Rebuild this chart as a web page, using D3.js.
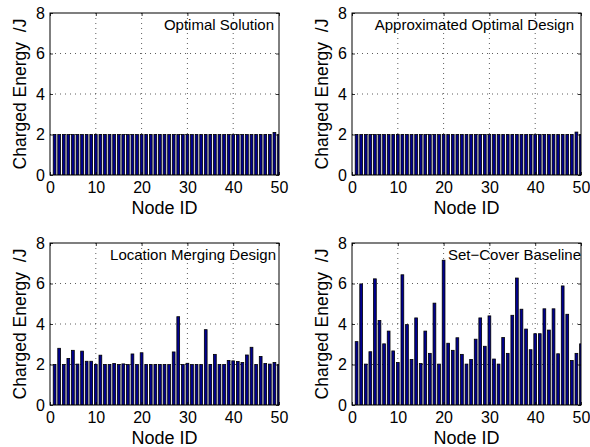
<!DOCTYPE html>
<html><head><meta charset="utf-8">
<script src="https://cdn.jsdelivr.net/npm/d3@7"></script>
<style>
body{margin:0;background:#fff}
svg{display:block}
text{font-family:"Liberation Sans",Arial,Helvetica,sans-serif;fill:#000}
</style>
</head><body>
<svg id="c" width="590" height="447"></svg>
<script>
// ---------- data ----------
const nodeIds = d3.range(1, 51);
const xTicks = [0, 10, 20, 30, 40, 50];
const yTicks = [0, 2, 4, 6, 8];
const titles = ["Optimal Solution", "Approximated Optimal Design", "Location Merging Design", "Set\u2212Cover Baseline"];
const yLabel = "Charged Energy  /J";
const xLabel = "Node ID";

const optimalSolution = [
  2.0,2.0,2.0,2.0,2.0,2.0,2.0,2.0,2.0,2.0,
  2.0,2.0,2.0,2.0,2.0,2.0,2.0,2.0,2.0,2.0,
  2.0,2.0,2.0,2.0,2.0,2.0,2.0,2.0,2.0,2.0,
  2.0,2.0,2.0,2.0,2.0,2.0,2.0,2.0,2.0,2.0,
  2.0,2.0,2.0,2.0,2.0,2.0,2.0,2.0,2.1,2.0];
const approxOptimal = [
  2.0,2.0,2.0,2.0,2.0,2.0,2.0,2.0,2.0,2.0,
  2.0,2.0,2.0,2.0,2.0,2.0,2.0,2.0,2.0,2.0,
  2.0,2.0,2.0,2.0,2.0,2.0,2.0,2.0,2.0,2.0,
  2.0,2.0,2.0,2.0,2.0,2.0,2.0,2.0,2.0,2.0,
  2.0,2.0,2.0,2.0,2.0,2.0,2.0,2.0,2.12,2.0];
const locationMerging = [
  2.0,2.8,2.0,2.3,2.7,2.02,2.66,2.16,2.16,2.0,
  2.46,2.0,2.0,2.05,2.0,2.03,2.0,2.52,2.0,2.58,
  2.0,2.0,2.0,2.0,2.0,2.0,2.62,4.36,2.0,2.06,
  2.0,2.0,2.0,3.72,2.0,2.5,2.0,2.0,2.2,2.18,
  2.15,2.1,2.47,2.85,2.0,2.4,2.05,2.02,2.1,2.0];
const setCover = [
  3.13,5.98,2.02,2.63,6.23,4.17,3.02,3.65,2.67,2.1,
  6.43,3.97,2.25,4.3,2.05,3.65,2.55,5.03,2.02,7.15,
  3.05,2.7,3.32,2.5,2.02,2.25,3.25,4.3,2.9,4.4,
  2.27,2.02,3.33,2.55,4.43,6.27,4.73,3.75,2.73,3.52,
  3.52,4.75,3.7,4.75,2.53,5.88,4.48,2.2,2.55,3.02];
const seriesList = [optimalSolution, approxOptimal, locationMerging, setCover];

// ---------- layout ----------
const W = 229, H = 162;
const origins = [[50, 13], [352, 13], [50, 243], [352, 243]];
const titleRight = [274, 574, 276, 581];

const svg = d3.select("#c");
const x = d3.scaleLinear().domain([0, 50]).range([0, W]);
const y = d3.scaleLinear().domain([0, 8]).range([H, 0]);
const barW = x(0.6) - x(0);

seriesList.forEach((vals, p) => {
  const [ox, oy] = origins[p];
  const g = svg.append("g").attr("transform", `translate(${ox},${oy})`);

  g.append("clipPath").attr("id", "clip" + p)
    .append("rect").attr("width", W).attr("height", H);

  // grid
  const grid = g.append("g");
  grid.selectAll("line.gx").data(xTicks.slice(1, -1)).join("line")
    .attr("x1", d => x(d)).attr("x2", d => x(d)).attr("y1", 0).attr("y2", H)
    .attr("stroke", "#333").attr("stroke-width", 0.8).attr("stroke-dasharray", "1,4");
  grid.selectAll("line.gy").data(yTicks.slice(1, -1)).join("line")
    .attr("y1", d => y(d)).attr("y2", d => y(d)).attr("x1", 0).attr("x2", W)
    .attr("stroke", "#333").attr("stroke-width", 0.8).attr("stroke-dasharray", "1,4");

  // bars
  g.append("g").attr("clip-path", `url(#clip${p})`)
    .selectAll("rect").data(vals).join("rect")
    .attr("x", (d, i) => x(nodeIds[i]) - barW / 2)
    .attr("width", barW)
    .attr("y", d => y(d))
    .attr("height", d => y(0) - y(d))
    .attr("fill", "#00008f")
    .attr("stroke", "#000").attr("stroke-width", 0.8);

  // axes (ticks inside, all four sides)
  const ax = (gen) => gen.tickSizeInner(-3).tickSizeOuter(0).tickPadding(6);
  const bottom = g.append("g").attr("transform", `translate(0,${H})`)
    .call(ax(d3.axisBottom(x).tickValues(xTicks).tickFormat(d3.format("d"))));
  const left = g.append("g")
    .call(ax(d3.axisLeft(y).tickValues(yTicks).tickFormat(d3.format("d"))));
  const top = g.append("g")
    .call(ax(d3.axisTop(x).tickValues(xTicks).tickFormat("")));
  const right = g.append("g").attr("transform", `translate(${W},0)`)
    .call(ax(d3.axisRight(y).tickValues(yTicks).tickFormat("")));
  [bottom, left, top, right].forEach(a => {
    a.select(".domain").remove();
    a.selectAll(".tick line").attr("stroke", "#000").attr("stroke-width", 0.8);
    a.selectAll("text").attr("font-size", 16).attr("font-family", '"Liberation Sans",Arial,sans-serif').attr("fill", "#000");
  });
  bottom.selectAll("text").attr("dy", "0.71em").attr("y", 7);
  left.selectAll("text").attr("x", -5);

  g.append("rect").attr("width", W).attr("height", H)
    .attr("fill", "none").attr("stroke", "#000").attr("stroke-width", 1);

  // title inside
  g.append("text").attr("x", titleRight[p] - ox).attr("y", 17)
    .attr("text-anchor", "end").attr("font-size", 15).text(titles[p]);

  // axis labels
  g.append("text").attr("x", W / 2).attr("y", H + 38.5)
    .attr("text-anchor", "middle").attr("font-size", 18).text(xLabel);
  g.append("text").attr("transform", `translate(-24,${H / 2}) rotate(-90)`)
    .attr("text-anchor", "middle").attr("font-size", 17.5)
    .style("white-space", "pre").text(yLabel);
});
</script>
</body></html>
